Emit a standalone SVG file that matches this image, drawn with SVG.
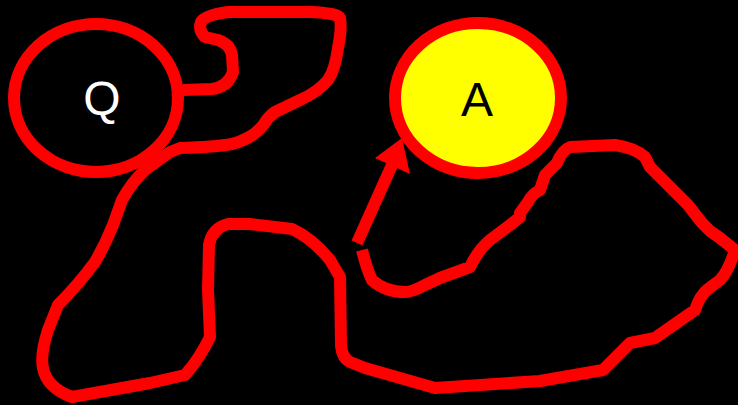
<svg xmlns="http://www.w3.org/2000/svg" width="738" height="405" viewBox="0 0 738 405">
<style>
.node{stroke:#ff0000;stroke-width:12}
.lbl{font-family:"Liberation Sans",Arial,sans-serif;font-size:48px;text-anchor:middle}
.edge{fill:none;stroke:#ff0000;stroke-width:12;stroke-linejoin:round;stroke-linecap:butt}
</style>
<rect width="738" height="405" fill="#000"/>
<g id="connectors">
<path class="edge" d="M183,90 L212,89 Q228,87 233,72 L232,55 Q230,44 218,40 L205,37 Q198,30 201,22 Q205,15 228,12 L310,12 Q338,13 340,18 Q342,28 338,48 Q335,70 328,80 Q318,92 300,100 L275,112 Q268,117 264,124 Q254,138 232,144 Q215,147 180,148 L170,152 L145,170 Q132,182 122,200 L113,225 Q105,245 95,262 Q78,285 58,305 L48,330 Q40,355 43,368 Q47,388 72,397 L150,383 L185,375 Q200,358 210,337 L208,290 L209,245 Q212,228 228,224 L250,224 L292,229 Q312,238 330,260 L340,277 L341,345 Q342,358 350,362 L365,368 L435,388 L540,381 L603,370 L630,343 L655,338 L695,310 Q700,295 708,289 L720,280 Q728,272 735,250 L720,238 L710,231 Q702,224 695,214 L688,205 L650,167 L645,157 Q635,148 615,145 L570,147 Q562,150 557,163 L545,175 L540,190 Q532,194 528,202 L520,213 L520,217 L510,225 L490,240 Q478,250 470,267 L440,278 L425,285 Q412,292 405,292 Q385,292 372,280 Q367,270 362,250"/>
<path class="edge" d="M357,243 L392,165"/>
<polygon points="402,138 375,158 410,174" fill="#ff0000"/>
</g>
<g id="Q">
<ellipse class="node" cx="96" cy="98" rx="82" ry="74" fill="#000"/>
<text class="lbl" x="102" y="115" fill="#fff">Q</text>
</g>
<g id="A">
<ellipse class="node" cx="478" cy="98" rx="83" ry="75" fill="#ffff00"/>
<text class="lbl" x="477" y="116" fill="#000">A</text>
</g>
</svg>
